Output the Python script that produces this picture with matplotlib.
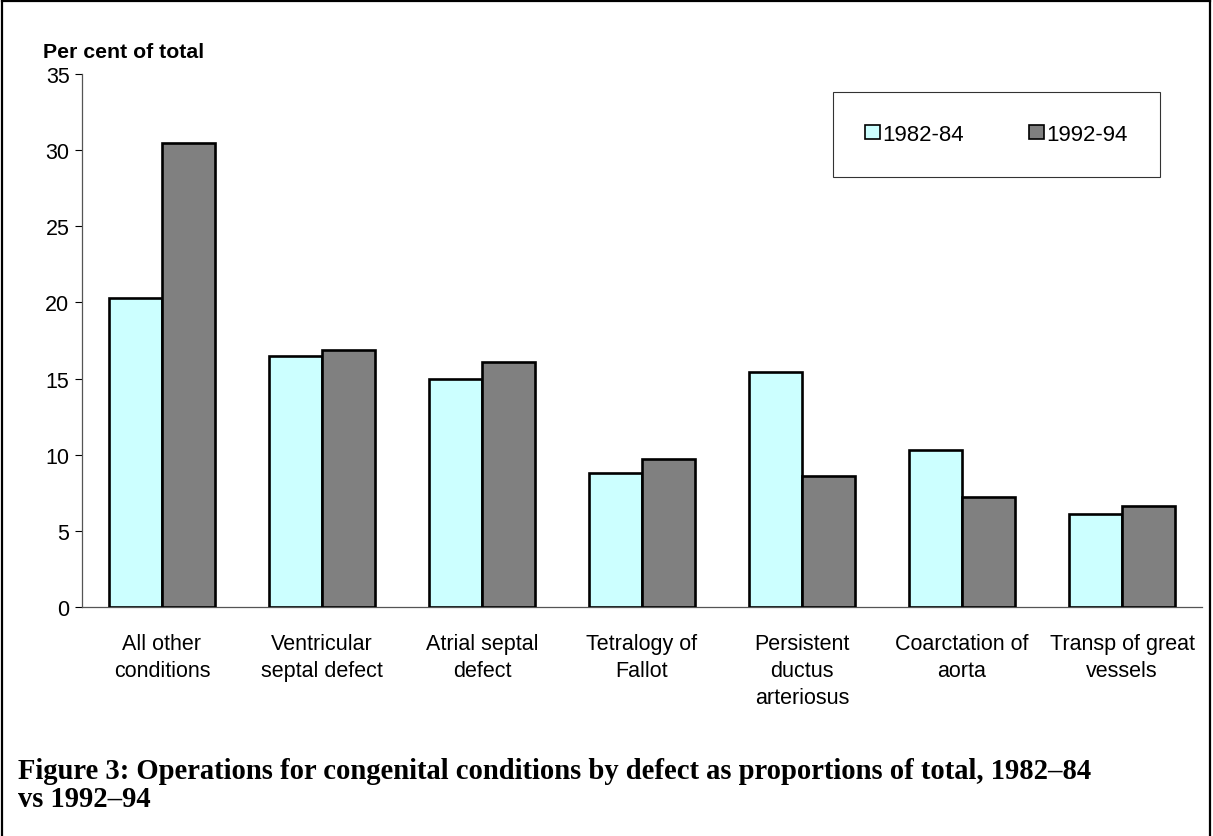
#!/usr/bin/env python3

import numpy as np
import matplotlib
matplotlib.use("Agg")
import matplotlib.pyplot as plt
from matplotlib.lines import Line2D


# Share of congenital heart operations by defect (per cent of total)
CATEGORIES = [
	"All other\nconditions",
	"Ventricular\nseptal defect",
	"Atrial septal\ndefect",
	"Tetralogy of\nFallot",
	"Persistent\nductus\narteriosus",
	"Coarctation of\naorta",
	"Transp of great\nvessels",
]
PERIOD_1982_84 = [20.3, 16.5, 15.0, 8.8, 15.4, 10.3, 6.1]
PERIOD_1992_94 = [30.5, 16.9, 16.1, 9.7, 8.6, 7.2, 6.6]
SERIES_LABELS = ["1982-84", "1992-94"]
Y_TICKS = [0, 5, 10, 15, 20, 25, 30, 35]

CAPTION_LINES = [
	"Figure 3: Operations for congenital conditions by defect as proportions of total, 1982\u201384",
	"vs 1992\u201394",
]

W, H = 1213, 837


def fx(px: float) -> float:
	return px / W


def fy(px: float) -> float:
	return 1 - px / H


def main() -> None:
	plt.rcParams["font.family"] = ["Liberation Sans", "DejaVu Sans"]
	fig = plt.figure(figsize=(W / 100, H / 100), dpi=100)
	ax = fig.add_axes([fx(82), fy(608), fx(1202) - fx(82), fy(75) - fy(608)])

	x = np.arange(len(CATEGORIES))
	width = 0.33
	ax.bar(x - width / 2, PERIOD_1982_84, width, color="#ccffff", edgecolor="black",
		linewidth=1.9, label=SERIES_LABELS[0], zorder=3)
	ax.bar(x + width / 2, PERIOD_1992_94, width, color="#808080", edgecolor="black",
		linewidth=1.9, label=SERIES_LABELS[1], zorder=3)

	ax.set_xlim(-0.5, len(CATEGORIES) - 0.5)
	ax.set_ylim(0, 35)
	ax.set_yticks(Y_TICKS)
	ax.set_xticks(x)
	ax.set_xticklabels(CATEGORIES, fontsize=15.5, linespacing=1.35)
	ax.tick_params(axis="x", length=0, pad=19)
	ax.tick_params(axis="y", labelsize=15.5, length=5, width=0.8, direction="out", pad=4)

	for side in ("top", "right"):
		ax.spines[side].set_visible(False)
	for side in ("left", "bottom"):
		ax.spines[side].set_color("#555555")
		ax.spines[side].set_linewidth(0.9)

	fig.text(fx(43), fy(52), "Per cent of total", fontsize=15.3, fontweight="bold",
		ha="left", va="center")

	leg = fig.legend(loc="lower left",
		bbox_to_anchor=(fx(833), fy(178), fx(1160) - fx(833), fy(94) - fy(178)),
		ncol=2, mode="expand", fontsize=16, frameon=True, fancybox=False,
		handlelength=0.65, handleheight=0.65, handletextpad=0.12, columnspacing=3.0,
		borderaxespad=0, borderpad=1.45)
	leg.get_frame().set_edgecolor("black")
	leg.get_frame().set_linewidth(0.8)
	for patch in leg.get_patches():
		patch.set_linewidth(1.2)

	# two-line caption under the plot
	for i, line in enumerate(CAPTION_LINES):
		fig.text(fx(18), fy(772 + 28 * i), line, fontsize=20.6, fontweight="bold",
			family=["Liberation Serif", "DejaVu Serif"], ha="left", va="center")

	# outer frame on left, top and right
	for xs, ys in [((2, 2), (2, 837)), ((2, 1210), (2, 2)), ((1210, 1210), (2, 837))]:
		fig.add_artist(Line2D([fx(v) for v in xs], [fy(v) for v in ys],
			color="black", linewidth=1.6))

	fig.savefig("out.png", dpi=100)
	plt.close(fig)


if __name__ == "__main__":
	main()
